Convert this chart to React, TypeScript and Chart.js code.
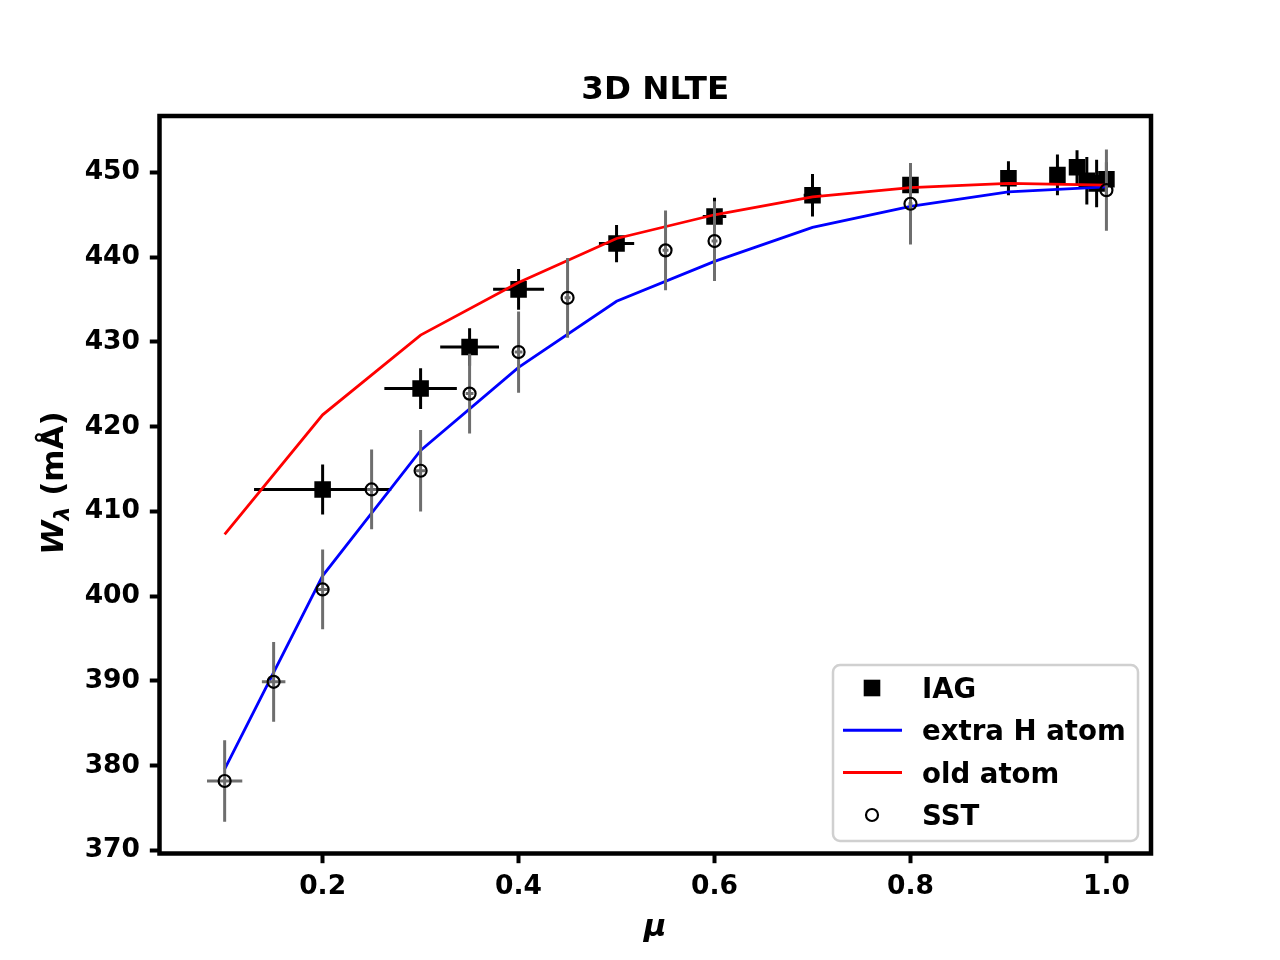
import React, { useEffect, useRef } from "react";
import { Chart, registerables } from "chart.js";

Chart.register(...registerables);

// ---- data ----
const iagMu = [0.2, 0.3, 0.35, 0.4, 0.5, 0.6, 0.7, 0.8, 0.9, 0.95, 0.97, 0.98, 0.99, 1.0];
const iagW = [412.6, 424.5, 429.4, 436.2, 441.6, 444.8, 447.3, 448.5, 449.3, 449.7, 450.6, 449.0, 448.7, 449.2];
const iagWErr = [2.95, 2.4, 2.2, 2.4, 2.2, 2.2, 2.5, 2.5, 2.0, 2.4, 2.0, 2.8, 2.8, 2.0];
const iagMuErr = [0.07, 0.037, 0.03, 0.026, 0.018, 0.012, 0.009, 0.006, 0.004, 0.002, 0.001, 0.001, 0.001, 0.001];

const sstMu = [0.1, 0.15, 0.2, 0.25, 0.3, 0.35, 0.4, 0.45, 0.55, 0.6, 0.8, 1.0];
const sstW = [378.2, 389.9, 400.8, 412.6, 414.8, 423.9, 428.8, 435.2, 440.8, 441.9, 446.3, 447.9];
const sstWErr = [4.8, 4.7, 4.7, 4.7, 4.8, 4.7, 4.8, 4.7, 4.7, 4.7, 4.8, 4.8];
const sstMuErr = [0.018, 0.012, 0.006, 0.005, 0.005, 0.004, 0.004, 0.003, 0.003, 0.003, 0.002, 0.001];

const modelMu = [0.1, 0.2, 0.3, 0.4, 0.5, 0.6, 0.7, 0.8, 0.9, 1.0];
const extraHAtom = [379.6, 402.4, 417.2, 427.0, 434.8, 439.5, 443.5, 446.0, 447.7, 448.3];
const oldAtom = [407.3, 421.4, 430.8, 437.0, 442.2, 445.0, 447.1, 448.2, 448.7, 448.5];

const xTicks = [0.2, 0.4, 0.6, 0.8, 1.0];
const xTickLabels = ["0.2", "0.4", "0.6", "0.8", "1.0"];
const yTicks = [370, 380, 390, 400, 410, 420, 430, 440, 450];
const yTickLabels = ["370", "380", "390", "400", "410", "420", "430", "440", "450"];

const legendLabels = ["IAG", "extra H atom", "old atom", "SST"];
const titleText = "3D NLTE";

const FONT = '"DejaVu Sans", "Liberation Sans", sans-serif';

const toPoints = (xs: number[], ys: number[]) => xs.map((x, i) => ({ x, y: ys[i] }));

const errorBarPlugin = {
  id: "errorBars",
  beforeDatasetDraw(chart: any, args: any) {
    const ds = chart.data.datasets[args.index];
    if (!ds.errY) return;
    const xs = chart.scales.x;
    const ys = chart.scales.y;
    const ctx = chart.ctx;
    const a = chart.chartArea;
    ctx.save();
    ctx.beginPath();
    ctx.rect(a.left, a.top, a.right - a.left, a.bottom - a.top);
    ctx.clip();
    ctx.strokeStyle = ds.errColor;
    ctx.lineWidth = 3;
    ctx.lineCap = "butt";
    ds.data.forEach((p: any, i: number) => {
      const px = xs.getPixelForValue(p.x);
      const py = ys.getPixelForValue(p.y);
      const ey = ds.errY[i];
      const ex = ds.errX[i];
      ctx.beginPath();
      ctx.moveTo(px, ys.getPixelForValue(p.y - ey));
      ctx.lineTo(px, ys.getPixelForValue(p.y + ey));
      ctx.moveTo(xs.getPixelForValue(p.x - ex), py);
      ctx.lineTo(xs.getPixelForValue(p.x + ex), py);
      ctx.stroke();
    });
    ctx.restore();
  },
};

const decorPlugin = {
  id: "decor",
  afterDatasetsDraw(chart: any) {
    const ctx = chart.ctx;
    const a = chart.chartArea;
    // frame
    ctx.save();
    ctx.strokeStyle = "#000";
    ctx.lineWidth = 4.5;
    ctx.strokeRect(a.left, a.top, a.right - a.left, a.bottom - a.top);
    ctx.restore();

    // legend
    ctx.save();
    const lx = 833, ly = 665, lw = 305, lh = 176, r = 7;
    ctx.beginPath();
    ctx.moveTo(lx + r, ly);
    ctx.arcTo(lx + lw, ly, lx + lw, ly + lh, r);
    ctx.arcTo(lx + lw, ly + lh, lx, ly + lh, r);
    ctx.arcTo(lx, ly + lh, lx, ly, r);
    ctx.arcTo(lx, ly, lx + lw, ly, r);
    ctx.closePath();
    ctx.fillStyle = "rgba(255,255,255,0.8)";
    ctx.fill();
    ctx.strokeStyle = "#d0d0d0";
    ctx.lineWidth = 2.5;
    ctx.stroke();

    const rowY = [688, 730.3, 772.6, 815];
    const mx = 872;
    // IAG square
    ctx.fillStyle = "#000";
    ctx.fillRect(mx - 8.3, rowY[0] - 8.3, 16.6, 16.6);
    // lines
    ctx.lineWidth = 3;
    ctx.strokeStyle = "#0000ff";
    ctx.beginPath();
    ctx.moveTo(843, rowY[1]);
    ctx.lineTo(902, rowY[1]);
    ctx.stroke();
    ctx.strokeStyle = "#ff0000";
    ctx.beginPath();
    ctx.moveTo(843, rowY[2]);
    ctx.lineTo(902, rowY[2]);
    ctx.stroke();
    // SST circle
    ctx.strokeStyle = "#000";
    ctx.lineWidth = 2.2;
    ctx.beginPath();
    ctx.arc(mx, rowY[3], 6, 0, Math.PI * 2);
    ctx.stroke();

    ctx.fillStyle = "#000";
    ctx.font = `bold 27.6px ${FONT}`;
    ctx.textAlign = "left";
    ctx.textBaseline = "alphabetic";
    legendLabels.forEach((t, i) => ctx.fillText(t, 922, rowY[i] + 10));
    ctx.restore();

    // title
    ctx.save();
    ctx.fillStyle = "#000";
    ctx.textAlign = "center";
    ctx.textBaseline = "alphabetic";
    ctx.font = `bold 32.5px ${FONT}`;
    const cx = (a.left + a.right) / 2;
    ctx.fillText(titleText, cx, 98.5);

    // x label
    ctx.font = `italic bold 31px ${FONT}`;
    ctx.fillText("μ", cx, 936);

    // y label
    ctx.translate(63, 483);
    ctx.rotate(-Math.PI / 2);
    ctx.textAlign = "left";
    ctx.font = `italic bold 31px ${FONT}`;
    const wW = ctx.measureText("W").width;
    ctx.font = `italic bold 22px ${FONT}`;
    const wL = ctx.measureText("λ").width;
    ctx.font = `bold 31px ${FONT}`;
    const wR = ctx.measureText(" (mÅ)").width;
    const start = -(wW + wL + wR) / 2;
    ctx.font = `italic bold 31px ${FONT}`;
    ctx.fillText("W", start, 0);
    ctx.font = `italic bold 22px ${FONT}`;
    ctx.fillText("λ", start + wW, 6);
    ctx.font = `bold 31px ${FONT}`;
    ctx.fillText(" (mÅ)", start + wW + wL, 0);
    ctx.restore();
  },
};

export default function App() {
  const ref = useRef<HTMLCanvasElement | null>(null);

  useEffect(() => {
    if (!ref.current) return;
    const tickFont = { family: FONT, weight: "bold" as const, size: 26.5 };
    const chart = new Chart(ref.current, {
      type: "scatter",
      data: {
        datasets: [
          {
            label: "IAG",
            data: toPoints(iagMu, iagW),
            pointStyle: "rect",
            pointRadius: 11.7,
            backgroundColor: "#000",
            borderColor: "#000",
            borderWidth: 0,
            order: 4,
            errY: iagWErr,
            errX: iagMuErr,
            errColor: "#000",
          } as any,
          {
            label: "extra H atom",
            data: toPoints(modelMu, extraHAtom),
            showLine: true,
            pointRadius: 0,
            borderColor: "#0000ff",
            borderWidth: 2.8,
            fill: false,
            order: 3,
          },
          {
            label: "old atom",
            data: toPoints(modelMu, oldAtom),
            showLine: true,
            pointRadius: 0,
            borderColor: "#ff0000",
            borderWidth: 2.8,
            fill: false,
            order: 2,
          },
          {
            label: "SST",
            data: toPoints(sstMu, sstW),
            pointStyle: "circle",
            pointRadius: 6,
            backgroundColor: "rgba(0,0,0,0)",
            borderColor: "#000",
            borderWidth: 2.2,
            order: 1,
            errY: sstWErr,
            errX: sstMuErr,
            errColor: "#6e6e6e",
          } as any,
        ],
      },
      options: {
        animation: false,
        responsive: false,
        devicePixelRatio: 1,
        events: [],
        layout: { padding: { left: 0, top: 116, right: 129, bottom: 0 } },
        plugins: { legend: { display: false }, tooltip: { enabled: false }, title: { display: false } },
        scales: {
          x: {
            type: "linear",
            min: 0.0335,
            max: 1.0455,
            afterFit: (s: any) => {
              s.height = 106.5;
            },
            afterBuildTicks: (s: any) => {
              s.ticks = xTicks.map((v) => ({ value: v }));
            },
            ticks: {
              font: tickFont,
              color: "#000",
              padding: 8,
              maxRotation: 0,
              autoSkip: false,
              callback: (v: any) => {
                const i = xTicks.findIndex((t) => Math.abs(t - Number(v)) < 1e-9);
                return i >= 0 ? xTickLabels[i] : "";
              },
            },
            grid: { display: true, drawOnChartArea: false, drawTicks: true, tickLength: 9.7, tickWidth: 4, tickColor: "#000" },
            border: { display: false },
          },
          y: {
            type: "linear",
            min: 369.65,
            max: 456.65,
            afterFit: (s: any) => {
              s.width = 159.5;
            },
            afterBuildTicks: (s: any) => {
              s.ticks = yTicks.map((v) => ({ value: v }));
            },
            ticks: {
              font: tickFont,
              color: "#000",
              padding: 9.8,
              autoSkip: false,
              callback: (v: any) => {
                const i = yTicks.findIndex((t) => Math.abs(t - Number(v)) < 1e-9);
                return i >= 0 ? yTickLabels[i] : "";
              },
            },
            grid: { display: true, drawOnChartArea: false, drawTicks: true, tickLength: 9.7, tickWidth: 4, tickColor: "#000" },
            border: { display: false },
          },
        },
      } as any,
      plugins: [errorBarPlugin, decorPlugin],
    });
    return () => chart.destroy();
  }, []);

  return (
    <div style={{ position: "absolute", left: 0, top: 0, width: 1280, height: 960, background: "#fff" }}>
      <canvas ref={ref} width={1280} height={960} style={{ width: 1280, height: 960, display: "block" }} />
    </div>
  );
}
